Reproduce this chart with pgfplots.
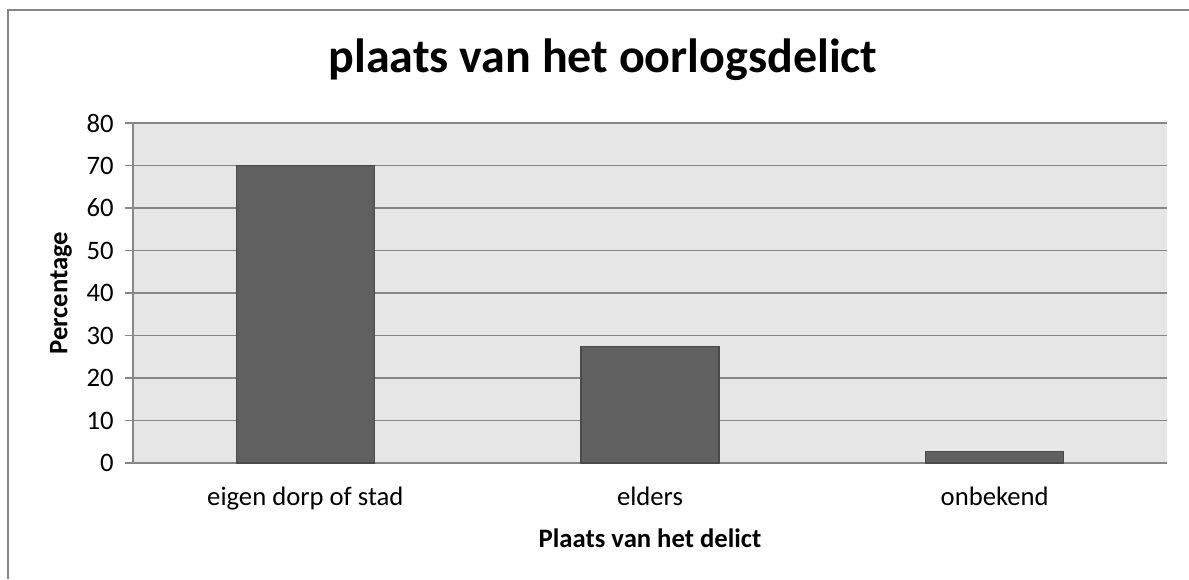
\documentclass[border=0pt]{standalone}
\usepackage{pgfplots}
\pgfplotsset{compat=1.18}
\usepackage{fontspec}
\setmainfont{Carlito}
\definecolor{plotbg}{HTML}{E6E6E6}
\definecolor{barfill}{HTML}{606060}
\definecolor{barline}{HTML}{4A4A4A}
\definecolor{gridc}{HTML}{868686}
\begin{document}
\begin{tikzpicture}
% frame / bounding box (1px = 0.75pt, axis lower-left corner at pixel (133,463))
\path[use as bounding box] (-99.75pt,-87pt) rectangle (792pt,347.25pt);
\draw[gridc, line width=1.1pt] (-93.75pt,-87pt) -- (-93.75pt,339.75pt) -- (792pt,339.75pt);
\begin{axis}[
  at={(0pt,0pt)}, anchor=south west,
  scale only axis,
  width=775.5pt, height=255pt,
  xmin=-0.5, xmax=2.5,
  ymin=0, ymax=80,
  ytick={0,10,...,80},
  xtick={0,1,2},
  xticklabels={eigen dorp of stad, elders, onbekend},
  major x tick style={draw=none},
  extra x ticks={-0.5,0.5,1.5,2.5},
  extra x tick labels={},
  extra x tick style={major tick length=6pt, tick style={draw=gridc, line width=0.9pt}, grid=none},
  major tick length=6pt,
  tick align=outside,
  axis x line*=bottom, axis y line*=left,
  axis line style={draw=gridc, line width=1.1pt},
  tick style={draw=gridc, line width=0.9pt},
  ymajorgrids,
  major grid style={draw=gridc, line width=1.1pt},
  axis background/.style={fill=plotbg},
  tick label style={font=\fontsize{20}{24}\selectfont},
  /pgf/number format/assume math mode=true,
  xticklabel style={yshift=-8.5pt},
  yticklabel style={xshift=-5pt},
  title={plaats van het oorlogsdelict},
  title style={font=\fontsize{36}{42}\selectfont\bfseries, at={(axis description cs:0.4545,1.1618)}, anchor=center},
  xlabel={Plaats van het delict},
  xlabel style={font=\fontsize{20}{24}\selectfont\bfseries, at={(axis description cs:0.5,-0.22)}, anchor=center},
  ylabel={Percentage},
  ylabel style={font=\fontsize{20}{24}\selectfont\bfseries, at={(axis description cs:-0.0696,0.5)}, anchor=center},
]
\addplot[ybar, bar width=0.4, fill=barfill, draw=barline, line width=0.9pt] coordinates {(0,70) (1,27.5) (2,2.8)};
\end{axis}
\end{tikzpicture}
\end{document}
